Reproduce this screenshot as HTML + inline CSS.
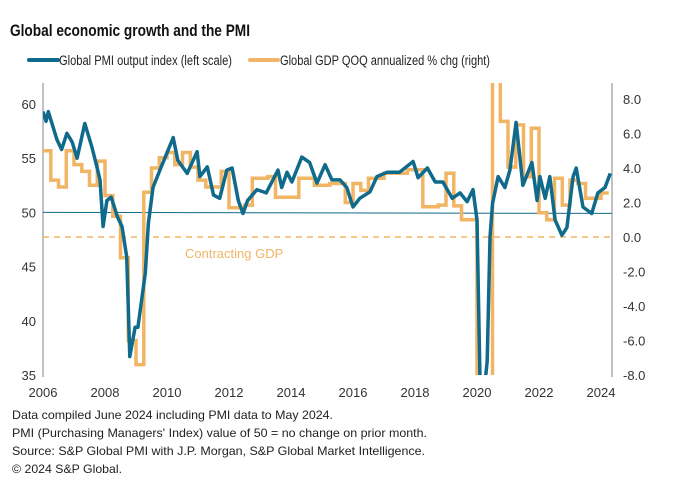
<!DOCTYPE html>
<html><head><meta charset="utf-8"><style>
html,body{margin:0;padding:0;background:#fff;width:675px;height:501px;overflow:hidden;position:relative;}
svg{display:block;position:absolute;left:0;top:0;font-family:"Liberation Sans",Arial,sans-serif;}
</style></head><body>
<svg id="chart" width="675" height="500" viewBox="0 0 675 500" xmlns="http://www.w3.org/2000/svg">
<text x="10" y="36" font-size="17" font-weight="bold" fill="#111" textLength="240" lengthAdjust="spacingAndGlyphs">Global economic growth and the PMI</text>
<g>
<g>
<line x1="29" y1="60" x2="58" y2="60" stroke="#0f6a8b" stroke-width="4" stroke-linecap="round"/>
<text x="59" y="65" font-size="13.5" fill="#222" textLength="173" lengthAdjust="spacingAndGlyphs">Global PMI output index (left scale)</text>
</g>
<g>
<line x1="250" y1="60" x2="278" y2="60" stroke="#f1b565" stroke-width="4" stroke-linecap="round"/>
<text x="280" y="65" font-size="13.5" fill="#222" textLength="210" lengthAdjust="spacingAndGlyphs">Global GDP QOQ annualized % chg (right)</text>
</g>
</g>
<defs><clipPath id="plotclip"><rect x="43" y="83" width="569" height="292"/></clipPath></defs>
<g id="axes"></g>
<g id="marks" clip-path="url(#plotclip)"></g>
<text x="185" y="258" font-size="13" fill="#f1b565">Contracting GDP</text>
<g font-size="12" fill="#222">
<text x="12" y="419" textLength="321" lengthAdjust="spacingAndGlyphs">Data compiled June 2024 including PMI data to May 2024.</text>
<text x="12" y="437" textLength="415" lengthAdjust="spacingAndGlyphs">PMI (Purchasing Managers' Index) value of 50 = no change on prior month.</text>
<text x="12" y="455" textLength="413" lengthAdjust="spacingAndGlyphs">Source: S&amp;P Global PMI with J.P. Morgan, S&amp;P Global Market Intelligence.</text>
<text x="12" y="473" textLength="110" lengthAdjust="spacingAndGlyphs">© 2024 S&amp;P Global.</text>
</g>
</svg>
<script>
const pmiDates = [2006.0,2006.1,2006.17,2006.45,2006.6,2006.77,2006.94,2007.1,2007.35,2007.58,2007.74,2007.84,2007.94,2008.06,2008.2,2008.4,2008.55,2008.7,2008.8,2008.97,2009.06,2009.3,2009.4,2009.55,2009.77,2010.0,2010.2,2010.35,2010.65,2010.97,2011.06,2011.3,2011.5,2011.7,2011.93,2012.1,2012.3,2012.45,2012.6,2012.9,2013.2,2013.58,2013.7,2013.87,2014.03,2014.35,2014.6,2014.84,2015.1,2015.32,2015.58,2015.8,2016.0,2016.22,2016.55,2016.77,2017.1,2017.5,2017.94,2018.1,2018.4,2018.65,2018.9,2019.2,2019.45,2019.68,2019.87,2020.0,2020.1,2020.25,2020.33,2020.42,2020.5,2020.68,2020.9,2021.06,2021.26,2021.48,2021.77,2021.94,2022.03,2022.2,2022.35,2022.52,2022.74,2022.9,2023.1,2023.2,2023.42,2023.7,2023.9,2024.13,2024.3];
const pmiValues = [59.3,58.4,59.3,56.7,55.8,57.3,56.5,55.0,58.2,56.0,54.2,53.0,48.7,51.1,51.4,49.6,48.7,45.9,36.7,39.4,39.4,44.4,49.0,52.3,53.9,55.5,56.9,54.8,53.6,55.6,53.3,54.2,51.6,51.3,53.9,54.1,51.1,49.9,51.1,52.1,51.8,53.9,52.3,53.7,52.8,55.1,54.6,52.7,54.4,53.0,53.0,52.3,50.5,51.3,51.9,53.3,53.7,53.7,54.7,53.2,54.1,52.8,52.8,51.3,51.8,51.0,52.1,49.3,34.0,26.2,36.3,47.7,50.8,53.3,52.3,53.9,58.3,52.5,54.6,51.1,53.3,51.3,53.3,49.3,47.9,48.6,53.3,54.1,50.5,49.9,51.8,52.3,53.6];
const gdpStart = 2006.0;
const gdpValues = [5.0,3.3,2.9,5.0, 4.2,3.8,3.0,4.4, 2.4,1.2,-1.2,-6.0, -7.4,2.6,4.0,4.6, 4.9,4.2,4.9,4.05, 3.3,2.9,2.9,3.8, 1.7,1.7,1.85,3.4, 3.4,3.5,2.3,2.3, 2.3,3.4,3.4,3.0, 3.0,3.1,3.1,2.0, 3.1,2.7,3.4,3.4, 3.7,3.7,3.7,3.9, 3.9,1.75,1.75,1.85, 3.7,1.8,1.0,1.0, -20,-30,35,6.7, 4.05,6.5,3.5,6.3, 1.4,1.0,3.4,1.85, 3.3,3.1,2.25,2.25, 2.55];
const yearTicks = [2006,2008,2010,2012,2014,2016,2018,2020,2022,2024];
const leftTicks = [35,40,45,50,55,60];
const rightTicks = [-8,-6,-4,-2,0,2,4,6,8];

const NS = "http://www.w3.org/2000/svg";
const X0 = 43, XPY = 31;
function clampY(y){ return Math.max(75, Math.min(385, y)); }
function xs(t){ return X0 + (t - 2006) * XPY; }
function yL(v){ return 104 + (60 - v) * 10.84; }
function yR(v){ return 237 - v * 17.25; }
function mk(tag, attrs, parent){ const e = document.createElementNS(NS, tag); for (const k in attrs) e.setAttribute(k, attrs[k]); parent.appendChild(e); return e; }
const axes = document.getElementById('axes');
const marks = document.getElementById('marks');

const la = mk('line', {x1:43,y1:83,x2:43,y2:377,stroke:'#999','stroke-width':1.2}, axes);


const ra = mk('line', {x1:612,y1:83,x2:612,y2:377,stroke:'#999','stroke-width':1.2}, axes);



leftTicks.forEach(v => {
  const t = mk('text', {x:36,y:yL(v)+5,'text-anchor':'end','font-size':13,fill:'#333'}, axes);
  t.textContent = v;
  
  
});
rightTicks.forEach(v => {
  const t = mk('text', {x:623,y:yR(v)+5,'font-size':13,fill:'#333'}, axes);
  t.textContent = v.toFixed(1);
  
  
});
yearTicks.forEach(y => {
  const t = mk('text', {x:xs(y),y:397,'text-anchor':'middle','font-size':13,fill:'#333'}, axes);
  t.textContent = y;
  
  
});

const l50 = mk('line', {x1:43,y1:yL(50),x2:612,y2:yL(50)+1,stroke:'#0f6a8b','stroke-width':1}, marks);


const l0 = mk('line', {x1:43,y1:yR(0),x2:612,y2:yR(0),stroke:'#f1b565','stroke-width':1.5,'stroke-dasharray':'6,5'}, marks);



let gd = '';
gdpValues.forEach((v, i) => {
  const t0 = gdpStart + i * 0.25, t1 = t0 + 0.25;
  const y = clampY(yR(v)).toFixed(1);
  gd += (i === 0 ? 'M' : 'L') + xs(t0).toFixed(1) + ',' + y + 'L' + xs(t1).toFixed(1) + ',' + y;
});
const gp = mk('path', {d:gd,fill:'none',stroke:'#f1b565','stroke-width':3.5,'stroke-linejoin':'miter'}, marks);



let pd = '';
pmiDates.forEach((t, i) => { pd += (i === 0 ? 'M' : 'L') + xs(t).toFixed(1) + ',' + clampY(yL(pmiValues[i])).toFixed(1); });
const pp = mk('path', {d:pd,fill:'none',stroke:'#0f6a8b','stroke-width':3.5,'stroke-linejoin':'round'}, marks);


</script>
</body></html>
